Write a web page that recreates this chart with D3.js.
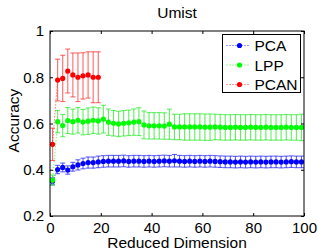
<!DOCTYPE html>
<html>
<head>
<meta charset="utf-8">
<script src="https://cdn.jsdelivr.net/npm/d3@7"></script>
<style>
  html, body { margin: 0; padding: 0; background: #fff; }
  text { font-family: "Liberation Sans", Arial, sans-serif; fill: #000; }
</style>
</head>
<body>
<div id="chart"></div>
<script>
"use strict";

// reduced dimensions (odd values 1..99)
var dims = d3.range(1, 100, 2);

var pcaMean = [
  0.350, 0.401, 0.410, 0.399, 0.413, 0.421, 0.427, 0.431, 0.431, 0.434,
  0.436, 0.437, 0.437, 0.437, 0.438, 0.436, 0.437, 0.437, 0.436, 0.437,
  0.436, 0.437, 0.438, 0.437, 0.439, 0.437, 0.436, 0.437, 0.436, 0.437,
  0.436, 0.437, 0.436, 0.435, 0.434, 0.434, 0.433, 0.434, 0.433, 0.434,
  0.433, 0.434, 0.433, 0.434, 0.434, 0.433, 0.434, 0.435, 0.434, 0.434
];
var pcaErr = [
  0.015, 0.018, 0.019, 0.018, 0.019, 0.022, 0.023, 0.024, 0.024, 0.025,
  0.025, 0.025, 0.025, 0.025, 0.025, 0.025, 0.025, 0.025, 0.025, 0.025,
  0.025, 0.025, 0.025, 0.025, 0.027, 0.025, 0.025, 0.025, 0.025, 0.025,
  0.025, 0.025, 0.025, 0.025, 0.025, 0.025, 0.025, 0.025, 0.025, 0.025,
  0.025, 0.025, 0.025, 0.025, 0.025, 0.025, 0.025, 0.025, 0.025, 0.025
];

var lppMean = [
  0.355, 0.608, 0.591, 0.613, 0.608, 0.614, 0.606, 0.610, 0.614, 0.611,
  0.619, 0.606, 0.601, 0.598, 0.601, 0.603, 0.606, 0.608, 0.594, 0.590,
  0.590, 0.590, 0.589, 0.597, 0.585, 0.585, 0.585, 0.585, 0.585, 0.585,
  0.584, 0.584, 0.585, 0.584, 0.583, 0.583, 0.584, 0.583, 0.583, 0.584,
  0.583, 0.583, 0.584, 0.583, 0.583, 0.583, 0.584, 0.583, 0.583, 0.583
];
var lppErr = [
  0.022, 0.048, 0.048, 0.056, 0.054, 0.055, 0.055, 0.057, 0.057, 0.057,
  0.060, 0.057, 0.055, 0.055, 0.055, 0.055, 0.057, 0.060, 0.060, 0.057,
  0.057, 0.057, 0.057, 0.065, 0.055, 0.055, 0.057, 0.057, 0.057, 0.057,
  0.057, 0.057, 0.055, 0.055, 0.055, 0.055, 0.055, 0.055, 0.055, 0.055,
  0.055, 0.055, 0.055, 0.055, 0.055, 0.055, 0.055, 0.055, 0.055, 0.057
];

var pcanDims = d3.range(1, 20, 2);
var pcanMean = [0.510, 0.788, 0.795, 0.827, 0.810, 0.800, 0.806, 0.810, 0.800, 0.800];
var pcanErr  = [0.070, 0.090, 0.100, 0.095, 0.095, 0.105, 0.100, 0.100, 0.110, 0.110];

var xTicks = [0, 20, 40, 60, 80, 100];
var yTicks = [0.2, 0.4, 0.6, 0.8, 1];

var series = [
  { name: "PCA",  color: "#0000ff", bar: "rgba(40,40,255,0.75)",  x: dims,     y: pcaMean,  e: pcaErr },
  { name: "LPP",  color: "#00ff00", bar: "rgba(40,235,40,0.75)",  x: dims,     y: lppMean,  e: lppErr },
  { name: "PCAN", color: "#ff0000", bar: "rgba(255,40,40,0.7)",   x: pcanDims, y: pcanMean, e: pcanErr }
];

var W = 318, H = 251;
var margin = { top: 31, right: 14, bottom: 35, left: 50 };
var iw = W - margin.left - margin.right;
var ih = H - margin.top - margin.bottom;

var svg = d3.select("#chart").append("svg")
  .attr("width", W).attr("height", H);

svg.append("rect").attr("width", W).attr("height", H).attr("fill", "#fff");

var x = d3.scaleLinear().domain([0, 100]).range([0, iw]);
var y = d3.scaleLinear().domain([0.2, 1]).range([ih, 0]);

var g = svg.append("g").attr("transform", "translate(" + margin.left + "," + margin.top + ")");

// series
series.forEach(function(s) {
  var pts = s.x.map(function(d, i) { return { x: d, y: s.y[i], e: s.e[i] }; });
  var sg = g.append("g");

  sg.append("path")
    .datum(pts)
    .attr("fill", "none")
    .attr("stroke", s.color)
    .attr("stroke-width", 0.8)
    .attr("stroke-dasharray", "1,2")
    .attr("d", d3.line().x(function(d) { return x(d.x); }).y(function(d) { return y(d.y); }));

  var cap = 2.5;
  var eb = sg.append("g").attr("stroke", s.bar).attr("stroke-width", 1.1);
  pts.forEach(function(d) {
    var cx = x(d.x), y0 = y(d.y - d.e), y1 = y(d.y + d.e);
    eb.append("line").attr("x1", cx).attr("x2", cx).attr("y1", y0).attr("y2", y1);
    eb.append("line").attr("x1", cx - cap).attr("x2", cx + cap).attr("y1", y0).attr("y2", y0);
    eb.append("line").attr("x1", cx - cap).attr("x2", cx + cap).attr("y1", y1).attr("y2", y1);
  });

  sg.selectAll("circle").data(pts).enter().append("circle")
    .attr("cx", function(d) { return x(d.x); })
    .attr("cy", function(d) { return y(d.y); })
    .attr("r", 2.6)
    .attr("fill", s.color);
});

// box + ticks (inward, all four sides)
var tl = 3;
g.append("g").attr("transform", "translate(0," + ih + ")")
  .call(d3.axisBottom(x).tickValues(xTicks).tickSizeInner(-tl).tickSizeOuter(0).tickPadding(6).tickFormat(d3.format("d")));
g.append("g")
  .call(d3.axisTop(x).tickValues(xTicks).tickSizeInner(-tl).tickSizeOuter(0).tickFormat(""));
g.append("g")
  .call(d3.axisLeft(y).tickValues(yTicks).tickSizeInner(-tl).tickSizeOuter(0).tickPadding(6).tickFormat(function(d) { return d === 1 ? "1" : d3.format(".1f")(d); }));
g.append("g").attr("transform", "translate(" + iw + ",0)")
  .call(d3.axisRight(y).tickValues(yTicks).tickSizeInner(-tl).tickSizeOuter(0).tickFormat(""));

g.selectAll(".domain").remove();
g.selectAll(".tick line").attr("stroke", "#000");
g.selectAll(".tick text").style("font-size", "15px").style("font-family", "'Liberation Sans', Arial, sans-serif");

g.append("rect").attr("x", 0).attr("y", 0).attr("width", iw).attr("height", ih)
  .attr("fill", "none").attr("stroke", "#000").attr("stroke-width", 1);

// labels
svg.append("text").attr("x", margin.left + iw / 2).attr("y", 18)
  .attr("text-anchor", "middle").style("font-size", "15.5px").text("Umist");
svg.append("text").attr("x", margin.left + iw / 2).attr("y", 248)
  .attr("text-anchor", "middle").style("font-size", "15.5px").text("Reduced Dimension");
svg.append("text").attr("transform", "translate(18.5," + (margin.top + ih / 2 - 3) + ") rotate(-90)")
  .attr("text-anchor", "middle").style("font-size", "15.5px").text("Accuracy");

// legend
var lg = svg.append("g").attr("transform", "translate(222.5,34.5)");
lg.append("rect").attr("width", 78).attr("height", 58)
  .attr("fill", "#fff").attr("stroke", "#000").attr("stroke-width", 1);
series.forEach(function(s, i) {
  var yy = 11 + i * 19.5;
  lg.append("line").attr("x1", 4).attr("x2", 28).attr("y1", yy).attr("y2", yy)
    .attr("stroke", s.color).attr("stroke-width", 0.8).attr("stroke-dasharray", "1,2");
  lg.append("circle").attr("cx", 17).attr("cy", yy).attr("r", 2.6).attr("fill", s.color);
  lg.append("text").attr("x", 32).attr("y", yy + 5.5).style("font-size", "15.5px").text(s.name);
});
</script>
</body>
</html>
